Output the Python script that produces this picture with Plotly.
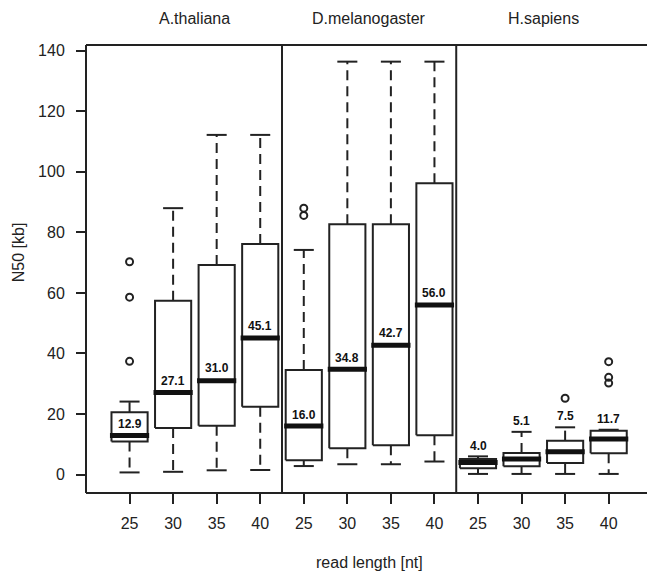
import plotly.graph_objects as go

# ---- data ----
species = ["A.thaliana", "D.melanogaster", "H.sapiens"]
read_lengths = [25, 30, 35, 40]

lower_whisker = [0.7, 0.9, 1.4, 1.5,
                 2.8, 3.4, 3.4, 4.3,
                 0.2, 0.2, 0.2, 0.2]
q1 = [10.9, 15.4, 16.1, 22.4,
      4.7, 8.7, 9.7, 13.0,
      2.1, 2.7, 3.8, 7.0]
median = [12.9, 27.1, 31.0, 45.1,
          16.0, 34.8, 42.7, 56.0,
          4.0, 5.1, 7.5, 11.7]
q3 = [20.6, 57.4, 69.2, 76.2,
      34.5, 82.7, 82.7, 96.2,
      5.1, 7.1, 11.2, 14.5]
upper_whisker = [24.1, 88.0, 112.2, 112.2,
                 74.2, 136.4, 136.4, 136.4,
                 6.0, 14.1, 15.6, 14.8]
outliers = [[37.4, 58.6, 70.3], [], [], [],
            [85.6, 88.0], [], [], [],
            [], [], [25.2], [30.2, 32.1, 37.3]]
# vertical placement of the median labels (data units)
label_y = [16.7, 31.0, 35.1, 49.2,
           19.6, 38.6, 46.7, 60.1,
           9.3, 17.6, 19.2, 18.3]

INK = "#222222"
FONT = "Liberation Sans, Arial, Helvetica, sans-serif"
BOX_HALF = 0.415
CAP_HALF = 0.23
MED_HALF = 0.45

n_groups = len(species)
n_per = len(read_lengths)
positions = [i + 1 for i in range(n_groups * n_per)]

fig = go.Figure()

# whiskers (dashed)
wx, wy = [], []
for p, lo, a, b, hi in zip(positions, lower_whisker, q1, q3, upper_whisker):
    if hi > b:
        wx += [p, p, None]
        wy += [b, hi, None]
    if lo < a:
        wx += [p, p, None]
        wy += [a, lo, None]
fig.add_trace(go.Scatter(x=wx, y=wy, mode="lines",
                         line=dict(color=INK, width=2, dash="10px,6px"),
                         hoverinfo="skip", showlegend=False))

# whisker caps
cx, cy = [], []
for p, lo, hi in zip(positions, lower_whisker, upper_whisker):
    for v in (lo, hi):
        cx += [p - CAP_HALF, p + CAP_HALF, None]
        cy += [v, v, None]
fig.add_trace(go.Scatter(x=cx, y=cy, mode="lines",
                         line=dict(color=INK, width=2),
                         hoverinfo="skip", showlegend=False))

# boxes
bx, by = [], []
for p, a, b in zip(positions, q1, q3):
    bx += [p - BOX_HALF, p + BOX_HALF, p + BOX_HALF, p - BOX_HALF, p - BOX_HALF, None]
    by += [a, a, b, b, a, None]
fig.add_trace(go.Scatter(x=bx, y=by, mode="lines",
                         line=dict(color=INK, width=2),
                         fill="toself", fillcolor="white",
                         hoverinfo="skip", showlegend=False))

# medians
mx, my = [], []
for p, m in zip(positions, median):
    mx += [p - MED_HALF, p + MED_HALF, None]
    my += [m, m, None]
fig.add_trace(go.Scatter(x=mx, y=my, mode="lines",
                         line=dict(color="#111111", width=5),
                         hoverinfo="skip", showlegend=False))

# outliers
ox, oy = [], []
for p, outs in zip(positions, outliers):
    for v in outs:
        ox.append(p)
        oy.append(v)
fig.add_trace(go.Scatter(x=ox, y=oy, mode="markers",
                         marker=dict(symbol="circle-open", size=7,
                                     color=INK, line=dict(width=2, color=INK)),
                         hoverinfo="skip", showlegend=False))

# median labels
for p, m, ly in zip(positions, median, label_y):
    fig.add_annotation(x=p, y=ly, text=f"<b>{m:.1f}</b>", showarrow=False,
                       font=dict(family=FONT, size=12, color="#111111"),
                       xanchor="center", yanchor="middle")

# species labels above panels
for g, name in enumerate(species):
    center = (positions[g * n_per] + positions[g * n_per + n_per - 1]) / 2
    fig.add_annotation(x=center, xref="x", y=1.06, yref="paper", text=name,
                       showarrow=False, font=dict(family=FONT, size=16, color=INK),
                       xanchor="center", yanchor="middle")

# frame and panel dividers
line_style = dict(color=INK, width=2)
fig.add_shape(type="line", xref="paper", yref="paper", x0=0, x1=1, y0=1, y1=1, line=line_style)
fig.add_shape(type="line", xref="paper", yref="paper", x0=0, x1=1, y0=0, y1=0, line=line_style)
fig.add_shape(type="line", xref="paper", yref="paper", x0=0, x1=0, y0=0, y1=1, line=line_style)
for g in range(1, n_groups):
    xd = (positions[g * n_per - 1] + positions[g * n_per]) / 2
    fig.add_shape(type="line", xref="x", yref="paper", x0=xd, x1=xd, y0=0, y1=1, line=line_style)

# axis titles
fig.add_annotation(x=-0.119, xref="paper", y=0.538, yref="paper", text="N50 [kb]",
                   textangle=-90, showarrow=False,
                   font=dict(family=FONT, size=16, color=INK),
                   xanchor="center", yanchor="middle")
fig.add_annotation(x=6.5, xref="x", y=-0.156, yref="paper", text="read length [nt]",
                   showarrow=False, font=dict(family=FONT, size=16, color=INK),
                   xanchor="center", yanchor="middle")

fig.update_layout(
    width=647, height=573,
    margin=dict(l=86, r=0, t=45, b=80),
    paper_bgcolor="white", plot_bgcolor="white",
    font=dict(family=FONT, size=16, color=INK),
    showlegend=False,
)
fig.update_xaxes(
    range=[0, 12.88], showgrid=False, zeroline=False, showline=False,
    tickmode="array", tickvals=positions,
    ticktext=[str(r) for _ in species for r in read_lengths],
    ticks="outside", ticklen=10, tickwidth=2, tickcolor=INK,
    ticklabelstandoff=6,
    tickfont=dict(family=FONT, size=16, color=INK),
)
fig.update_yaxes(
    range=[-6.1, 141.9], showgrid=False, zeroline=False, showline=False,
    tickmode="array", tickvals=[0, 20, 40, 60, 80, 100, 120, 140],
    ticks="outside", ticklen=9, tickwidth=2, tickcolor=INK,
    ticklabelstandoff=8,
    tickfont=dict(family=FONT, size=16, color=INK),
)

fig.write_html("out.html")
